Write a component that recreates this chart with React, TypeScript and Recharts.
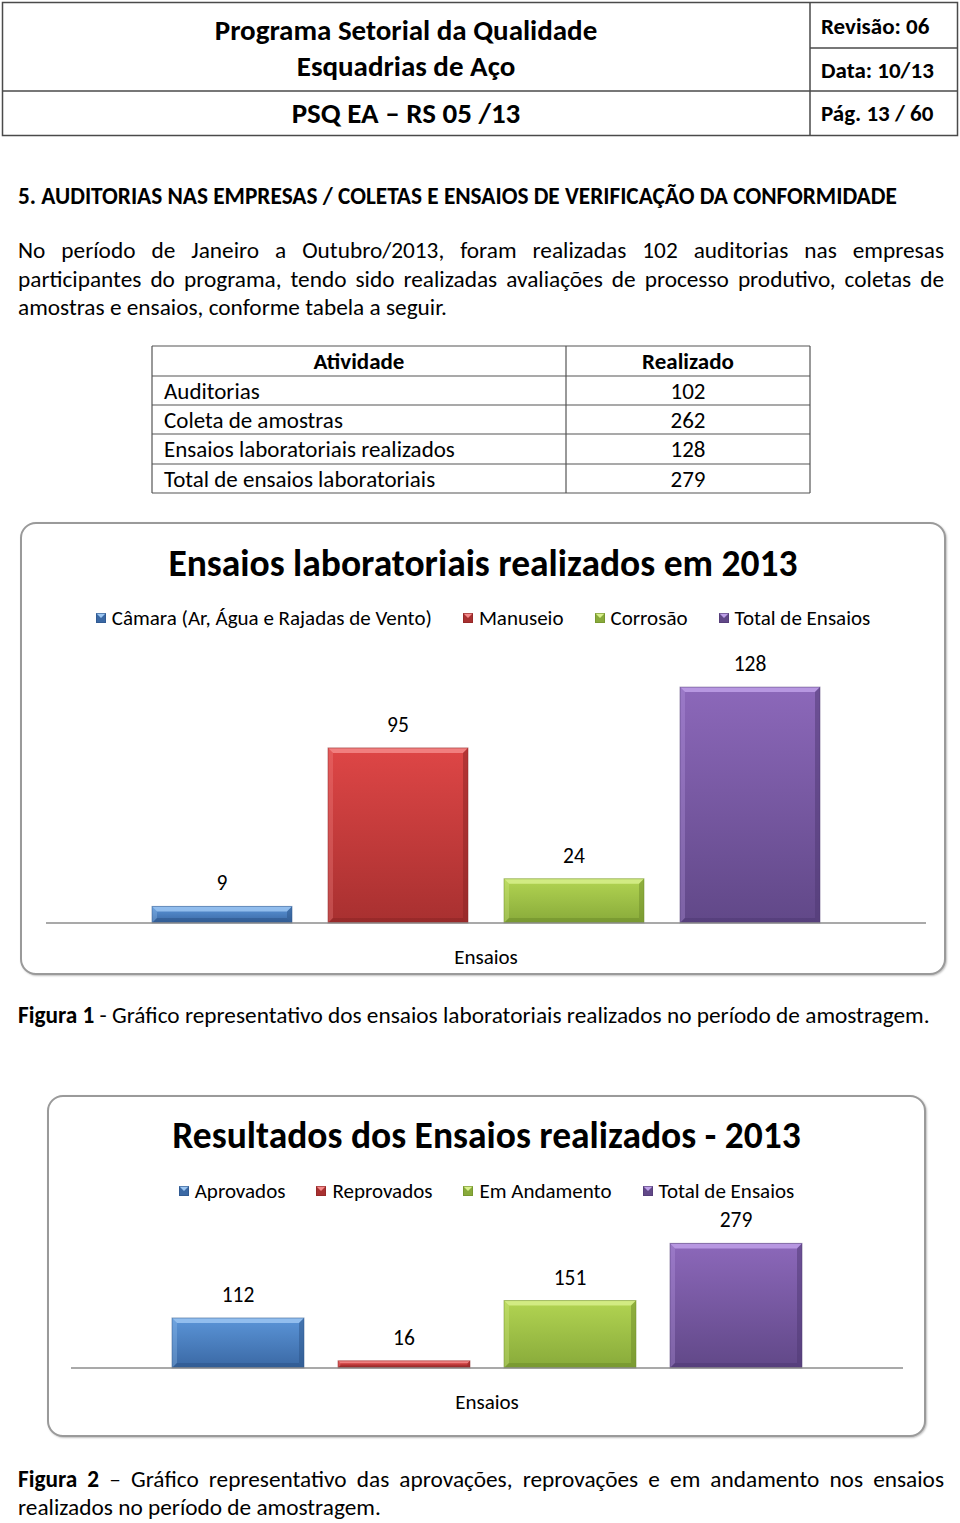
import React from 'react';
import { BarChart, Bar, XAxis, YAxis, LabelList, Legend } from 'recharts';

const FONT = 'Carlito, Lato, "Open Sans", sans-serif';

// ---- data ----
const chart1Category = 'Ensaios';
const chart1Series = ['Câmara (Ar, Água e Rajadas de Vento)', 'Manuseio', 'Corrosão', 'Total de Ensaios'];
const chart1Values = [9, 95, 24, 128];

const chart2Category = 'Ensaios';
const chart2Series = ['Aprovados', 'Reprovados', 'Em Andamento', 'Total de Ensaios'];
const chart2Values = [112, 16, 151, 279];

const tableHeader = ['Atividade', 'Realizado'];
const tableActivities = ['Auditorias', 'Coleta de amostras', 'Ensaios laboratoriais realizados', 'Total de ensaios laboratoriais'];
const tableValues = [102, 262, 128, 279];

const paragraphLines = [
  'No período de Janeiro a Outubro/2013, foram realizadas 102 auditorias nas empresas',
  'participantes do programa, tendo sido realizadas avaliações de processo produtivo, coletas de',
  'amostras e ensaios, conforme tabela a seguir.',
];

const PALETTE = [
  { top: '#5b95d8', bottom: '#3a68a4', bevel: '#9cc6f2', dark: '#2c5488' },
  { top: '#de4646', bottom: '#a83030', bevel: '#f48a8a', dark: '#8a2424' },
  { top: '#b2d452', bottom: '#88aa3a', bevel: '#d8f08c', dark: '#6e8c2a' },
  { top: '#8c68ba', bottom: '#614888', bevel: '#bea0e8', dark: '#4e3872' },
];

const buildRow = (category: string, values: number[]) => {
  const row: Record<string, string | number> = { name: category };
  values.forEach((v, i) => {
    row['s' + i] = v;
  });
  return row;
};

const data1 = [buildRow(chart1Category, chart1Values)];
const data2 = [buildRow(chart2Category, chart2Values)];

const BevelBar = (props: any) => {
  const { x, y, width, height, idx, prefix } = props;
  if (!height || height <= 0) return null;
  const p = PALETTE[idx];
  const b = Math.min(5, height / 3, width / 3);
  const gid = `${prefix}-grad-${idx}`;
  return (
    <g>
      <defs>
        <linearGradient id={gid} x1="0" y1="0" x2="0" y2="1">
          <stop offset="0%" stopColor={p.top} />
          <stop offset="100%" stopColor={p.bottom} />
        </linearGradient>
      </defs>
      <rect x={x} y={y} width={width} height={height} fill={`url(#${gid})`} />
      <polygon
        points={`${x},${y} ${x + width},${y} ${x + width - b},${y + b} ${x + b},${y + b}`}
        fill={p.bevel}
        opacity={0.85}
      />
      <polygon
        points={`${x},${y} ${x + b},${y + b} ${x + b},${y + height - b} ${x},${y + height}`}
        fill={p.bevel}
        opacity={0.3}
      />
      <polygon
        points={`${x + width},${y} ${x + width - b},${y + b} ${x + width - b},${y + height - b} ${x + width},${y + height}`}
        fill={p.dark}
        opacity={0.5}
      />
      <polygon
        points={`${x},${y + height} ${x + b},${y + height - b} ${x + width - b},${y + height - b} ${x + width},${y + height}`}
        fill={p.dark}
        opacity={0.55}
      />
      <rect x={x} y={y} width={width} height={height} fill="none" stroke={p.dark} strokeOpacity={0.5} strokeWidth={1} />
    </g>
  );
};

const LegendIcon = ({ idx }: { idx: number }) => {
  const p = PALETTE[idx];
  return (
    <svg width={10} height={10} style={{ display: 'block' }}>
      <rect x={0} y={0} width={10} height={10} fill={p.bottom} />
      <polygon points="0,0 10,0 5,5" fill={p.bevel} />
      <rect x={0.5} y={0.5} width={9} height={9} fill="none" stroke={p.dark} strokeOpacity={0.6} />
    </svg>
  );
};

const makeLegend = (names: string[]) => () => (
  <div
    style={{
      display: 'flex',
      justifyContent: 'center',
      alignItems: 'center',
      fontFamily: FONT,
      fontSize: 21,
      color: '#000',
      height: 26,
    }}
  >
    {names.map((n, i) => (
      <div key={n} style={{ display: 'flex', alignItems: 'center', marginLeft: i === 0 ? 0 : 31 }}>
        <LegendIcon idx={i} />
        <span style={{ marginLeft: 6, whiteSpace: 'nowrap' }}>{n}</span>
      </div>
    ))}
  </div>
);

const CategoryTick = (props: any) => {
  const { x, y, payload } = props;
  return (
    <text x={x} y={y + 34} textAnchor="middle" dominantBaseline="central" fontFamily={FONT} fontSize={21} fill="#000">
      {payload.value}
    </text>
  );
};

const ValueLabel = (props: any) => {
  const { x, y, width, value } = props;
  return (
    <text
      x={x + width / 2}
      y={y - 23}
      textAnchor="middle"
      dominantBaseline="central"
      fontFamily={FONT}
      fontSize={21.5}
      fill="#000"
    >
      {value}
    </text>
  );
};

interface ChartBoxProps {
  left: number;
  top: number;
  width: number;
  height: number;
  title: string;
  titleY: number;
  legendY: number;
  data: any[];
  series: string[];
  domainMax: number;
  margin: { top: number; right: number; bottom: number; left: number };
  barSize: number;
  barGap: number;
  prefix: string;
}

const ChartBox = (p: ChartBoxProps) => (
  <div
    style={{
      position: 'absolute',
      left: p.left,
      top: p.top,
      width: p.width,
      height: p.height,
      boxSizing: 'border-box',
      border: '2px solid #9a9a9a',
      borderRadius: 16,
      background: '#fff',
      boxShadow: '1px 1px 2px rgba(0,0,0,0.25)',
    }}
  >
    <div
      style={{
        position: 'absolute',
        left: -2,
        top: p.titleY - p.top - 2 - 24,
        width: p.width,
        height: 48,
        lineHeight: '48px',
        textAlign: 'center',
        fontFamily: FONT,
        fontWeight: 700,
        fontSize: 37.5,
        color: '#000',
        whiteSpace: 'nowrap',
      }}
    >
      {p.title}
    </div>
    <div style={{ position: 'absolute', left: -2, top: -2 }}>
      <BarChart
        width={p.width}
        height={p.height}
        data={p.data}
        margin={p.margin}
        barSize={p.barSize}
        barGap={p.barGap}
      >
        <XAxis
          dataKey="name"
          axisLine={{ stroke: '#8c8c8c', strokeWidth: 1.5 }}
          tickLine={false}
          tickSize={0}
          tickMargin={0}
          height={40}
          tick={<CategoryTick />}
        />
        <YAxis hide domain={[0, p.domainMax]} />
        <Legend
          layout="horizontal"
          verticalAlign="middle"
          align="center"
          content={makeLegend(p.series)}
          wrapperStyle={{ top: p.legendY - p.top - 13, left: 0, width: p.width, height: 26 }}
        />
        {p.series.map((s, i) => (
          <Bar
            key={s}
            dataKey={'s' + i}
            name={s}
            isAnimationActive={false}
            shape={(props: any) => <BevelBar {...props} idx={i} prefix={p.prefix} />}
          >
            <LabelList dataKey={'s' + i} content={<ValueLabel />} />
          </Bar>
        ))}
      </BarChart>
    </div>
  </div>
);

const Txt = ({
  x,
  cy,
  size,
  bold,
  children,
  width,
  align,
  lh,
}: {
  x: number;
  cy: number;
  size: number;
  bold?: boolean;
  children: React.ReactNode;
  width?: number;
  align?: 'left' | 'center' | 'right' | 'justify';
  lh?: number;
}) => {
  const h = lh || 30;
  return (
    <div
      style={{
        position: 'absolute',
        left: x,
        top: cy - h / 2,
        width: width,
        height: h,
        lineHeight: h + 'px',
        fontSize: size,
        fontWeight: bold ? 700 : 400,
        fontFamily: FONT,
        color: '#000',
        whiteSpace: 'nowrap',
        textAlign: align === 'justify' ? 'justify' : align || 'left',
        textAlignLast: align === 'justify' ? 'justify' : undefined,
      } as React.CSSProperties}
    >
      {children}
    </div>
  );
};

const Header = () => (
  <>
    <svg style={{ position: 'absolute', left: 0, top: 0 }} width={960} height={140}>
      <g stroke="#4a4a4a" strokeWidth={1.5} fill="none">
        <rect x={2.5} y={2.5} width={955} height={133} />
        <line x1={2.5} y1={91} x2={957.5} y2={91} />
        <line x1={810} y1={2.5} x2={810} y2={135.5} />
        <line x1={810} y1={48} x2={957.5} y2={48} />
      </g>
    </svg>
    <Txt x={2} width={808} cy={30} size={29} bold align="center" lh={36}>
      Programa Setorial da Qualidade
    </Txt>
    <Txt x={2} width={808} cy={66} size={29} bold align="center" lh={36}>
      Esquadrias de Aço
    </Txt>
    <Txt x={2} width={808} cy={113} size={29} bold align="center" lh={36}>
      PSQ EA – RS 05 /13
    </Txt>
    <Txt x={821} cy={26} size={23} bold>
      Revisão: 06
    </Txt>
    <Txt x={821} cy={70} size={23} bold>
      Data: 10/13
    </Txt>
    <Txt x={821} cy={113} size={23} bold>
      Pág. 13 / 60
    </Txt>
  </>
);

const rowLines = [346, 376, 405, 434, 464, 493];

const ActivityTable = () => (
  <>
    <svg style={{ position: 'absolute', left: 0, top: 330 }} width={960} height={180}>
      <g stroke="#555" strokeWidth={1.2}>
        {rowLines.map((y) => (
          <line key={y} x1={152} y1={y - 330} x2={810} y2={y - 330} />
        ))}
        <line x1={152} y1={346 - 330} x2={152} y2={493 - 330} />
        <line x1={566} y1={346 - 330} x2={566} y2={493 - 330} />
        <line x1={810} y1={346 - 330} x2={810} y2={493 - 330} />
      </g>
    </svg>
    <Txt x={152} width={414} cy={361} size={23} bold align="center">
      {tableHeader[0]}
    </Txt>
    <Txt x={566} width={244} cy={361} size={23} bold align="center">
      {tableHeader[1]}
    </Txt>
    {tableActivities.map((a, i) => (
      <React.Fragment key={a}>
        <Txt x={164} cy={(rowLines[i + 1] + rowLines[i + 2]) / 2} size={23}>
          {a}
        </Txt>
        <Txt x={566} width={244} cy={(rowLines[i + 1] + rowLines[i + 2]) / 2} size={23} align="center">
          {tableValues[i]}
        </Txt>
      </React.Fragment>
    ))}
  </>
);

export default function App() {
  return (
    <div
      style={{
        position: 'absolute',
        left: 0,
        top: 0,
        width: 960,
        height: 1523,
        background: '#fff',
        overflow: 'hidden',
        fontFamily: FONT,
      }}
    >
      <Header />
      <Txt x={18} cy={196} size={23.3} bold>
        5. AUDITORIAS NAS EMPRESAS / COLETAS E ENSAIOS DE VERIFICAÇÃO DA CONFORMIDADE
      </Txt>
      <Txt x={18} width={926} cy={250} size={23.3} align="justify">
        {paragraphLines[0]}
      </Txt>
      <Txt x={18} width={926} cy={278.5} size={23.3} align="justify">
        {paragraphLines[1]}
      </Txt>
      <Txt x={18} cy={307} size={23.3}>
        {paragraphLines[2]}
      </Txt>
      <ActivityTable />

      <ChartBox
        left={20}
        top={522}
        width={926}
        height={453}
        title="Ensaios laboratoriais realizados em 2013"
        titleY={563}
        legendY={618}
        data={data1}
        series={chart1Series}
        domainMax={140}
        margin={{ top: 143, right: 20, bottom: 12, left: 26 }}
        barSize={140}
        barGap={36}
        prefix="c1"
      />

      <Txt x={18} cy={1015} size={23.3}>
        <b>Figura 1</b> - Gráfico representativo dos ensaios laboratoriais realizados no período de amostragem.
      </Txt>

      <ChartBox
        left={47}
        top={1095}
        width={879}
        height={342}
        title="Resultados dos Ensaios realizados - 2013"
        titleY={1135}
        legendY={1191}
        data={data2}
        series={chart2Series}
        domainMax={300}
        margin={{ top: 139, right: 23, bottom: 29, left: 24 }}
        barSize={132}
        barGap={34}
        prefix="c2"
      />

      <Txt x={18} width={926} cy={1479} size={23.3} align="justify">
        <b>Figura 2</b> – Gráfico representativo das aprovações, reprovações e em andamento nos ensaios
      </Txt>
      <Txt x={18} cy={1507} size={23.3}>
        realizados no período de amostragem.
      </Txt>
    </div>
  );
}
